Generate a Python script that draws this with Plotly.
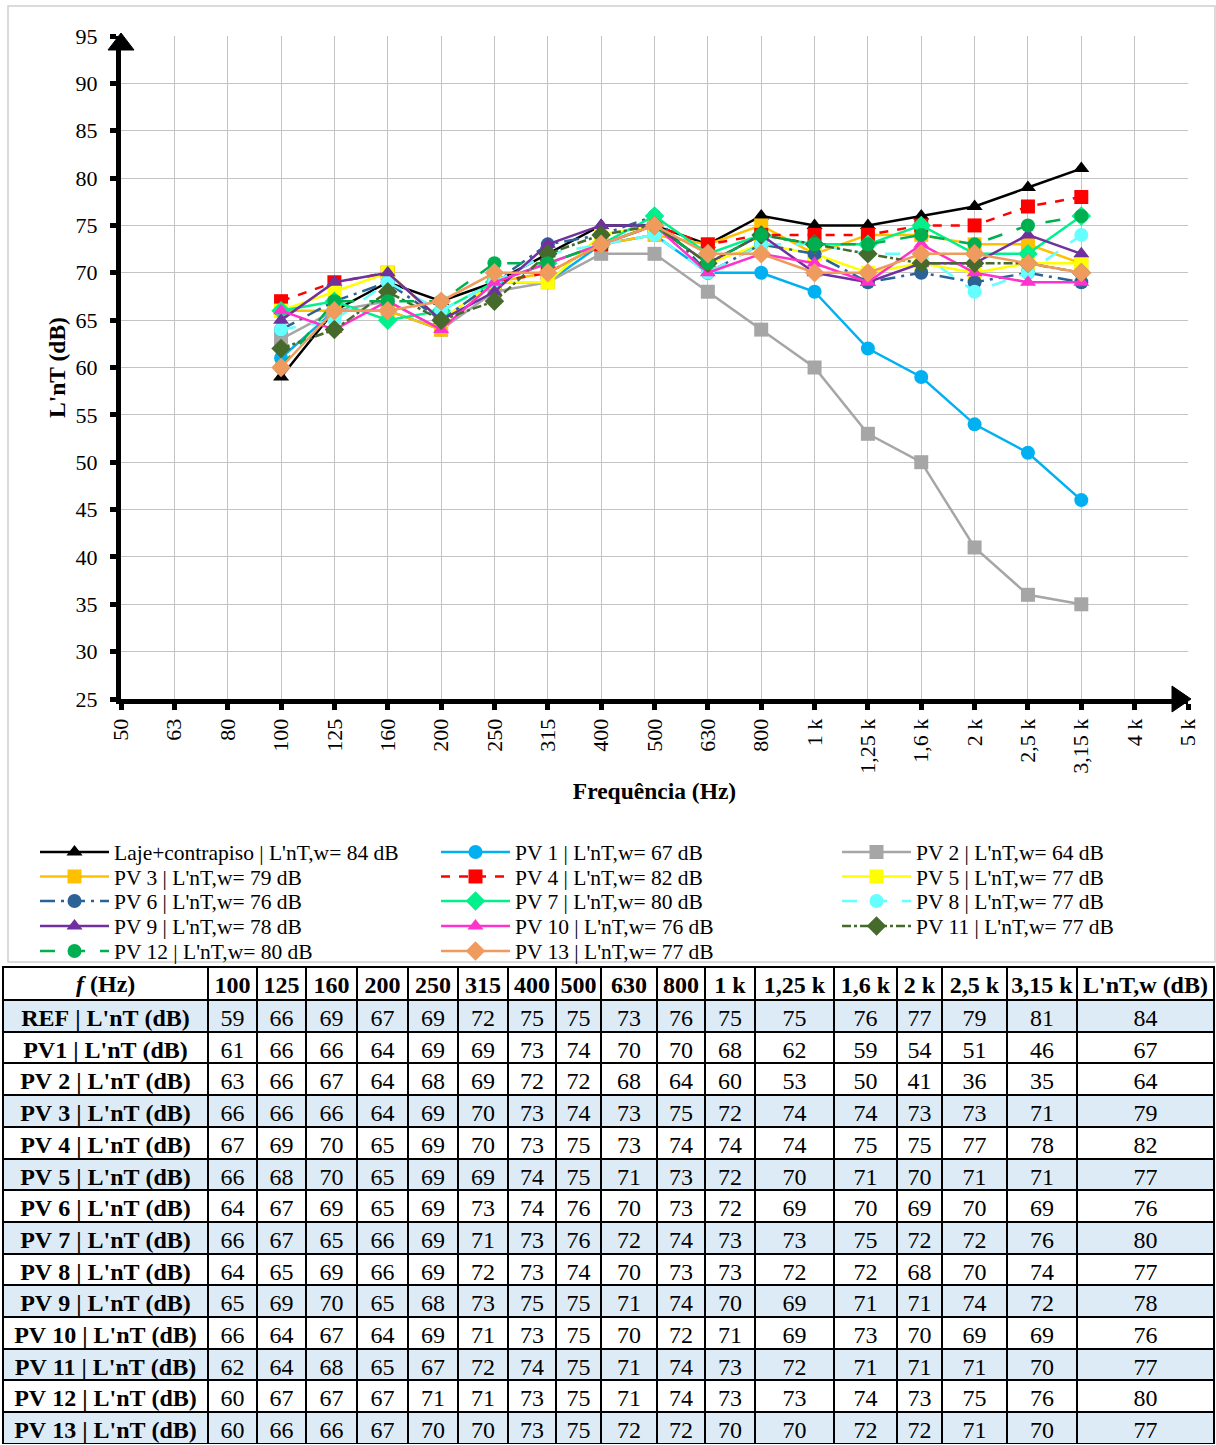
import plotly.graph_objects as go

W, H = 1216, 1445
FONT = "Liberation Serif"
NB = "\u00a0"

axis_cats = ["50", "63", "80", "100", "125", "160", "200", "250", "315", "400", "500",
             "630", "800", "1 k", "1,25 k", "1,6 k", "2 k", "2,5 k", "3,15 k", "4 k", "5 k"]
freqs = ["100", "125", "160", "200", "250", "315", "400", "500", "630", "800",
         "1 k", "1,25 k", "1,6 k", "2 k", "2,5 k", "3,15 k"]

row_labels = ["REF | L'nT (dB)", "PV1 | L'nT (dB)", "PV 2 | L'nT (dB)", "PV 3 | L'nT (dB)",
              "PV 4 | L'nT (dB)", "PV 5 | L'nT (dB)", "PV 6 | L'nT (dB)", "PV 7 | L'nT (dB)",
              "PV 8 | L'nT (dB)", "PV 9 | L'nT (dB)", "PV 10 | L'nT (dB)", "PV 11 | L'nT (dB)",
              "PV 12 | L'nT (dB)", "PV 13 | L'nT (dB)"]
series_names = ["Laje+contrapiso", "PV 1", "PV 2", "PV 3", "PV 4", "PV 5", "PV 6",
                 "PV 7", "PV 8", "PV 9", "PV 10", "PV 11", "PV 12", "PV 13"]
weighted_header = "L'nT,w (dB)"

ref = [59, 66, 69, 67, 69, 72, 75, 75, 73, 76, 75, 75, 76, 77, 79, 81]
pv1 = [61, 66, 66, 64, 69, 69, 73, 74, 70, 70, 68, 62, 59, 54, 51, 46]
pv2 = [63, 66, 67, 64, 68, 69, 72, 72, 68, 64, 60, 53, 50, 41, 36, 35]
pv3 = [66, 66, 66, 64, 69, 70, 73, 74, 73, 75, 72, 74, 74, 73, 73, 71]
pv4 = [67, 69, 70, 65, 69, 70, 73, 75, 73, 74, 74, 74, 75, 75, 77, 78]
pv5 = [66, 68, 70, 65, 69, 69, 74, 75, 71, 73, 72, 70, 71, 70, 71, 71]
pv6 = [64, 67, 69, 65, 69, 73, 74, 76, 70, 73, 72, 69, 70, 69, 70, 69]
pv7 = [66, 67, 65, 66, 69, 71, 73, 76, 72, 74, 73, 73, 75, 72, 72, 76]
pv8 = [64, 65, 69, 66, 69, 72, 73, 74, 70, 73, 73, 72, 72, 68, 70, 74]
pv9 = [65, 69, 70, 65, 68, 73, 75, 75, 71, 74, 70, 69, 71, 71, 74, 72]
pv10 = [66, 64, 67, 64, 69, 71, 73, 75, 70, 72, 71, 69, 73, 70, 69, 69]
pv11 = [62, 64, 68, 65, 67, 72, 74, 75, 71, 74, 73, 72, 71, 71, 71, 70]
pv12 = [60, 67, 67, 67, 71, 71, 73, 75, 71, 74, 73, 73, 74, 73, 75, 76]
pv13 = [60, 66, 66, 67, 70, 70, 73, 75, 72, 72, 70, 70, 72, 72, 71, 70]
weighted = [84, 67, 64, 79, 82, 77, 76, 80, 77, 78, 76, 77, 80, 77]

all_series = [ref, pv1, pv2, pv3, pv4, pv5, pv6, pv7, pv8, pv9, pv10, pv11, pv12, pv13]

styles = [
    ("#000000", "solid", "triangle-up"),
    ("#00B0F0", "solid", "circle"),
    ("#A6A6A6", "solid", "square"),
    ("#FFC000", "solid", "square"),
    ("#FF0000", "dash", "square"),
    ("#FFFF00", "solid", "square"),
    ("#2B6397", "longdashdot", "circle"),
    ("#00F08C", "solid", "diamond"),
    ("#66FFFF", "longdash", "circle"),
    ("#7030A0", "solid", "triangle-up"),
    ("#FF33CC", "solid", "triangle-up"),
    ("#466A2B", "dashdot", "diamond"),
    ("#00B050", "longdash", "circle"),
    ("#F09B5E", "solid", "diamond"),
]

# layout geometry (pixels)
px_l, px_r = 121, 1188
px_t, px_b = 36, 699
xd = [px_l / W, px_r / W]
yd = [1 - px_b / H, 1 - px_t / H]

legend_ids = ["legend", "legend2", "legend3", "legend4", "legend5"]

fig = go.Figure()

for i, (name, vals, w, (col, dash, sym)) in enumerate(zip(series_names, all_series, weighted, styles)):
    msize = 14 if sym != "diamond" else 15
    fig.add_trace(go.Scatter(
        x=freqs, y=vals, mode="lines+markers",
        name=f"{name} | L'nT,w= {w} dB",
        line=dict(color=col, width=2.5, dash=dash),
        marker=dict(symbol=sym, size=msize, color=col),
        xaxis="x", yaxis="y", cliponaxis=False,
        legend=legend_ids[i // 3],
    ))

# table (no markup in cells, so row heights stay as declared)
def nb(s):
    return s.replace(" ", NB)

header_vals = [""] + [nb(f) for f in freqs] + [nb(weighted_header)]
cols = [[nb(r) for r in row_labels]]
for j in range(len(freqs)):
    cols.append([s[j] for s in all_series])
cols.append(weighted)
blue = "#DDEBF7"
row_fill = [blue, "white", "white", blue, "white", blue, "white", blue, "white", blue,
            "white", blue, "white", blue]
colw = [205, 49, 49, 51, 51, 50, 50, 48, 45, 56, 48, 50, 79, 63, 45, 65, 70, 137]
ncol = len(cols)

tbl_top = 967
fig.add_trace(go.Table(
    domain=dict(x=[3 / W, 1214 / W], y=[0, 1 - tbl_top / H]),
    columnwidth=colw,
    header=dict(values=header_vals, fill_color="white", line=dict(color="black", width=2),
                font=dict(family=FONT, size=24, color="black", weight="bold"),
                align="center", height=33),
    cells=dict(values=cols, fill_color=[row_fill] * ncol,
               line=dict(color="black", width=2),
               font=dict(family=FONT, size=24, color="black",
                         weight=["bold"] + ["normal"] * (ncol - 1)),
               align="center", height=31.7),
))

fig.add_annotation(
    text="<b><i>f</i> (Hz)</b>", xref="paper", yref="paper",
    x=(3 + 208) / 2 / W, y=1 - (tbl_top + 16.5) / H, xanchor="center", yanchor="middle",
    showarrow=False, font=dict(family=FONT, size=24, color="black"),
)

legend_common = dict(
    orientation="h", xanchor="left", yanchor="middle",
    font=dict(family=FONT, size=21.5), entrywidth=317, entrywidthmode="pixels",
    itemwidth=69, bgcolor="rgba(0,0,0,0)",
)
row_y = [852, 876.5, 901, 926, 951]

fig.update_layout(
    width=W, height=H,
    margin=dict(l=0, r=0, t=0, b=0, autoexpand=False),
    paper_bgcolor="white", plot_bgcolor="white",
    font=dict(family=FONT, size=20, color="black"),
    xaxis=dict(
        domain=xd, type="category", categoryorder="array", categoryarray=axis_cats,
        tickmode="array", tickvals=axis_cats, ticktext=axis_cats,
        range=[0, 20], tickangle=-90,
        showgrid=True, gridcolor="#C4C4C4", gridwidth=1,
        showline=True, linecolor="black", linewidth=5,
        ticks="outside", ticklen=6, tickwidth=5, tickcolor="black",
        tickfont=dict(family=FONT, size=22),
        title=dict(text="<b>Frequência (Hz)</b>", font=dict(family=FONT, size=23.5), standoff=11),
        zeroline=False, fixedrange=True, automargin=False,
    ),
    yaxis=dict(
        domain=yd, range=[25, 95], dtick=5, tick0=25,
        showgrid=True, gridcolor="#C4C4C4", gridwidth=1,
        showline=True, linecolor="black", linewidth=5,
        ticks="outside", ticklen=6, tickwidth=5, tickcolor="black",
        tickfont=dict(family=FONT, size=22), ticklabelstandoff=8,
        title=dict(text="<b>L'nT (dB)</b>", font=dict(family=FONT, size=23.5), standoff=5),
        zeroline=False, fixedrange=True, automargin=False,
    ),
    showlegend=True,
)
for lid, yy in zip(legend_ids, row_y):
    fig.update_layout({lid: dict(legend_common, x=35 / W, y=1 - yy / H)})

# axis arrowheads and outer chart border
def P(x, y):
    return f"{x / W:.5f},{1 - y / H:.5f}"

fig.add_shape(type="path", xref="paper", yref="paper",
              path=f"M {P(108, 50)} L {P(134, 50)} L {P(121, 33)} Z",
              fillcolor="black", line=dict(color="black", width=1))
fig.add_shape(type="path", xref="paper", yref="paper",
              path=f"M {P(1172, 686)} L {P(1172, 712)} L {P(1191, 699)} Z",
              fillcolor="black", line=dict(color="black", width=1))
fig.add_shape(type="rect", xref="paper", yref="paper",
              x0=8 / W, x1=1215 / W, y0=1 - 962 / H, y1=1 - 6 / H,
              line=dict(color="#D0D0D0", width=1.5), layer="below")

fig.write_html("out.html")
